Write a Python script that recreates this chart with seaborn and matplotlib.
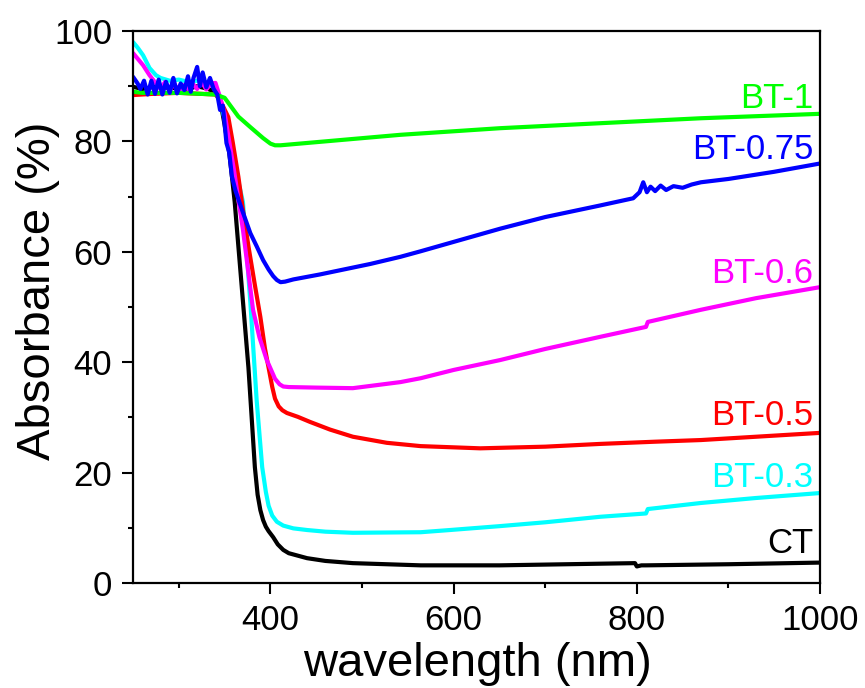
import matplotlib
matplotlib.use("Agg")
import matplotlib.pyplot as plt
from matplotlib.ticker import MultipleLocator
import seaborn as sns
import pandas as pd

# ---- data ----
ct_x = [250, 260, 270, 280, 290, 300, 310, 320, 330, 340, 345, 350, 355, 358, 361, 370, 376, 383, 386, 389, 392, 395, 398, 403, 408, 414, 420, 440, 460, 490, 564, 650, 760, 798, 800, 805, 810, 900, 1000]
ct_y = [89.9, 89.5, 89.8, 90.0, 89.6, 89.8, 89.5, 90.0, 89.6, 89.0, 87.5, 83.0, 78.0, 73.6, 69.0, 51.0, 39.0, 21.0, 16.0, 13.2, 11.4, 10.2, 9.4, 8.3, 7.0, 6.0, 5.4, 4.5, 4.0, 3.6, 3.2, 3.2, 3.5, 3.6, 3.0, 3.2, 3.2, 3.4, 3.7]

bt03_x = [250, 255, 261, 268, 275, 280, 290, 300, 310, 320, 330, 340, 345, 350, 355, 362, 370, 378, 385, 391, 395, 398, 402, 407, 414, 425, 440, 460, 490, 564, 596, 650, 700, 760, 810, 812, 870, 930, 1000]
bt03_y = [98.0, 97.0, 95.6, 93.3, 92.0, 91.5, 91.0, 91.2, 90.8, 91.0, 90.5, 89.8, 87.5, 84.0, 80.0, 75.0, 69.0, 51.0, 33.0, 21.0, 16.5, 14.0, 12.2, 11.1, 10.4, 9.9, 9.6, 9.3, 9.1, 9.2, 9.6, 10.3, 11.0, 12.0, 12.6, 13.4, 14.5, 15.4, 16.3]

bt05_x = [250, 270, 300, 340, 345, 354, 359, 365, 370, 376, 383, 389, 394, 398, 402, 405, 409, 413, 418, 430, 443, 465, 490, 527, 564, 629, 700, 760, 820, 870, 930, 1000]
bt05_y = [88.4, 88.6, 88.8, 88.5, 87.5, 84.4, 79.7, 73.6, 67.6, 61.0, 54.0, 48.2, 42.5, 39.0, 35.5, 33.4, 32.0, 31.3, 30.8, 30.1, 29.2, 27.8, 26.5, 25.4, 24.8, 24.4, 24.7, 25.2, 25.6, 25.9, 26.5, 27.2]

bt06_x = [250, 255, 261, 268, 275, 280, 285, 290, 295, 300, 305, 310, 315, 320, 325, 330, 335, 340, 345, 350, 355, 360, 370, 381, 388, 396, 405, 410, 414, 420, 450, 490, 542, 564, 600, 651, 700, 760, 810, 812, 870, 930, 1000]
bt06_y = [96.0, 95.0, 93.8, 92.0, 90.5, 89.5, 90.8, 89.2, 90.5, 89.0, 90.2, 89.5, 90.5, 89.5, 90.8, 89.4, 90.5, 90.6, 88.0, 85.0, 80.0, 75.0, 64.0, 49.5, 44.5, 40.4, 37.0, 36.0, 35.6, 35.5, 35.4, 35.3, 36.4, 37.1, 38.6, 40.4, 42.4, 44.6, 46.4, 47.3, 49.5, 51.6, 53.6]

bt1_x = [250, 260, 300, 340, 350, 365, 378, 392, 400, 405, 411, 542, 651, 760, 870, 1000]
bt1_y = [89.0, 88.8, 88.8, 88.5, 87.9, 84.5, 82.6, 80.6, 79.6, 79.3, 79.3, 81.2, 82.4, 83.3, 84.2, 85.0]

bt075_x = [250, 255, 258, 262, 266, 270, 274, 278, 282, 286, 290, 294, 298, 302, 306, 310, 313, 316, 320, 323, 326, 330, 334, 338, 342, 345, 348, 352, 355, 358, 362, 369, 378, 385, 392, 398, 403, 407, 411, 416, 425, 454, 509, 542, 564, 600, 651, 700, 760, 796, 803, 807, 811, 815, 820, 826, 832, 840, 850, 860, 870, 900, 950, 1000]
bt075_y = [91.7, 90.5, 89.5, 91.0, 88.5, 91.0, 88.6, 91.2, 88.5, 90.8, 88.8, 91.5, 88.7, 90.5, 89.3, 91.8, 89.0, 91.5, 93.5, 90.0, 92.5, 89.8, 91.5, 89.5, 88.5, 85.7, 86.5, 79.7, 78.0, 73.6, 71.0, 67.6, 63.4, 61.0, 58.5, 56.8, 55.6, 54.9, 54.5, 54.6, 55.0, 55.9, 57.8, 59.1, 60.1, 61.8, 64.2, 66.3, 68.4, 69.7, 70.8, 72.6, 70.8, 71.8, 71.0, 72.0, 71.2, 71.9, 71.6, 72.2, 72.6, 73.2, 74.5, 76.0]

series = ["CT", "BT-0.3", "BT-0.5", "BT-0.6", "BT-1", "BT-0.75"]
colors = ["#000000", "#00FFFF", "#FF0000", "#FF00FF", "#00FF00", "#0000FF"]
xs = [ct_x, bt03_x, bt05_x, bt06_x, bt1_x, bt075_x]
ys = [ct_y, bt03_y, bt05_y, bt06_y, bt1_y, bt075_y]

label_names = ["BT-1", "BT-0.75", "BT-0.6", "BT-0.5", "BT-0.3", "CT"]
label_colors = ["#00FF00", "#0000FF", "#FF00FF", "#FF0000", "#00FFFF", "#000000"]
label_y = [86.1, 76.9, 54.3, 28.6, 17.4, 5.4]

xlabel = "wavelength (nm)"
ylabel = "Absorbance (%)"

# ---- plotting ----
sns.set_style("ticks")
plt.rcParams["font.family"] = ["Liberation Sans", "DejaVu Sans"]

fig = plt.figure(figsize=(8.65, 6.88), dpi=100)
ax = fig.add_axes([0.1538, 0.1526, 0.7942, 0.8023])

for name, c, x, y in zip(series, colors, xs, ys):
    df = pd.DataFrame({"x": x, "y": y})
    sns.lineplot(data=df, x="x", y="y", color=c, lw=3.0, ax=ax,
                 estimator=None, sort=False, legend=False)

for name, c, yy in zip(label_names, label_colors, label_y):
    ax.text(993, yy, name, color=c, fontsize=25, ha="right", va="baseline")

ax.set_xlim(250, 1000)
ax.set_ylim(0, 100)
ax.xaxis.set_major_locator(MultipleLocator(200))
ax.xaxis.set_minor_locator(MultipleLocator(100))
ax.yaxis.set_major_locator(MultipleLocator(20))
ax.yaxis.set_minor_locator(MultipleLocator(10))

for s in ax.spines.values():
    s.set_linewidth(1.6)
    s.set_color("black")

ax.tick_params(which="major", direction="out", length=8, width=1.5,
               labelsize=25, pad=7, colors="black")
ax.tick_params(which="minor", direction="out", length=3.6, width=1.5, colors="black")
ax.tick_params(top=False, right=False, which="both")

ax.set_xlabel(xlabel, fontsize=34, color="black")
ax.set_ylabel(ylabel, fontsize=34, color="black")
ax.xaxis.set_label_coords(0.501, -0.107)
ax.yaxis.set_label_coords(-0.106, 0.529)

fig.savefig("out.png", dpi=100)
